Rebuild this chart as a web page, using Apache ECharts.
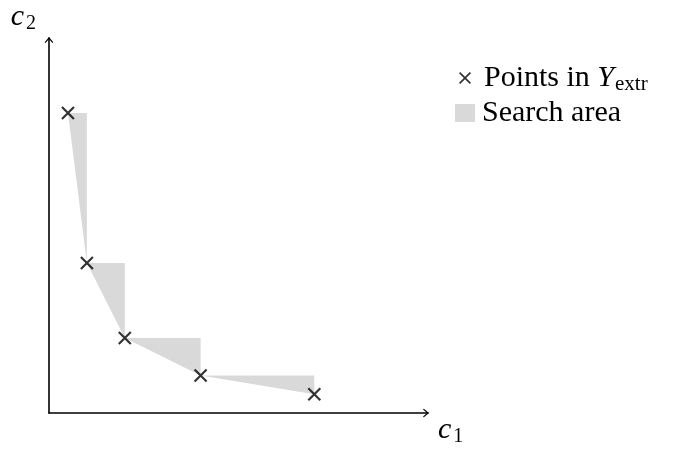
<!DOCTYPE html>
<html><head><meta charset="utf-8">
<script src="https://cdn.jsdelivr.net/npm/echarts@6/dist/echarts.min.js"></script>
<style>html,body{margin:0;padding:0;background:#fff}#c{width:675px;height:450px}</style>
</head><body><div id="c"></div>
<script>
const c1 = [1, 2, 4, 8, 14];
const c2 = [16, 8, 4, 2, 1];
const seriesNames = ['Points in Y_extr', 'Search area'];

const points = c1.map((x, i) => [x, c2[i]]);
const triangles = [];
for (let i = 0; i < c1.length - 1; i++) {
  triangles.push([c1[i], c2[i], c1[i + 1], c2[i + 1]]);
}
const FONT = "'Liberation Serif', serif";
const arrow = 'path://M5,0 L10,6 L9,7 L5,2.2 L1,7 L0,6 Z';
const nameRich = {
  c: { fontFamily: FONT, fontStyle: 'italic', fontSize: 30, color: '#000' },
  s: { fontFamily: FONT, fontSize: 20, color: '#000', padding: [14, 0, 0, 2] }
};
const legendRich = {
  a: { fontFamily: FONT, fontSize: 30, color: '#000' },
  i: { fontFamily: FONT, fontStyle: 'italic', fontSize: 30, color: '#000' },
  s: { fontFamily: FONT, fontSize: 21, color: '#000', padding: [12, 0, 0, 1] }
};
const chart = echarts.init(document.getElementById('c'));
chart.setOption({
  animation: false,
  grid: { left: 49, right: 247, top: 38, bottom: 37, outerBoundsMode: 'none', containLabel: false },
  xAxis: {
    type: 'value', min: 0, max: 20,
    axisLine: { show: true, lineStyle: { color: '#000', width: 1.6 }, symbol: ['none', arrow], symbolSize: [10, 6], symbolOffset: [0, -2] },
    axisTick: { show: false }, axisLabel: { show: false }, splitLine: { show: false },
    name: '{c|c}{s|1}', nameLocation: 'end', nameGap: 10,
    nameTextStyle: { align: 'left', verticalAlign: 'top', padding: [0, 0, 0, 0], rich: nameRich }
  },
  yAxis: {
    type: 'value', min: 0, max: 20,
    axisLine: { show: true, lineStyle: { color: '#000', width: 1.6 }, symbol: ['none', arrow], symbolSize: [10, 6], symbolOffset: [0, -2] },
    axisTick: { show: false }, axisLabel: { show: false }, splitLine: { show: false },
    name: '{c|c}{s|2}', nameLocation: 'end', nameGap: 4,
    nameTextStyle: { align: 'right', verticalAlign: 'bottom', padding: [0, 13, 0, 0], rich: nameRich }
  },
  legend: [
    {
      orient: 'vertical', left: 454, top: 58, itemWidth: 12, itemHeight: 12,
      data: [{ name: seriesNames[0], icon: 'path://M1,0 L5,4 L9,0 L10,1 L6,5 L10,9 L9,10 L5,6 L1,10 L0,9 L4,5 L0,1 Z', itemStyle: { color: '#000', borderWidth: 0 } }],
      formatter: () => '{a|Points in }{i|Y}{s|extr}',
      textStyle: { padding: [0, 0, 0, 8], rich: legendRich }
    },
    {
      orient: 'vertical', left: 450, top: 93, itemWidth: 20, itemHeight: 18,
      data: [{ name: seriesNames[1], icon: 'rect', itemStyle: { color: '#d9d9d9' } }],
      formatter: () => '{a|Search area}',
      textStyle: { padding: [0, 0, 0, 2], rich: legendRich }
    }
  ],
  series: [
    {
      name: seriesNames[1], type: 'custom', z: 1,
      data: triangles,
      renderItem: (params, api) => {
        const a = api.coord([api.value(0), api.value(1)]);
        const b = api.coord([api.value(2), api.value(1)]);
        const c = api.coord([api.value(2), api.value(3)]);
        return { type: 'polygon', shape: { points: [a, b, c] }, style: { fill: '#d9d9d9' } };
      },
      itemStyle: { color: '#d9d9d9' }
    },
    {
      name: seriesNames[0], type: 'scatter', z: 3,
      data: points,
      symbol: 'path://M0,0 L10,10 M10,0 L0,10',
      symbolSize: 12,
      itemStyle: { color: 'none', borderColor: '#000', borderWidth: 2.2 }
    }
  ]
});
</script></body></html>
